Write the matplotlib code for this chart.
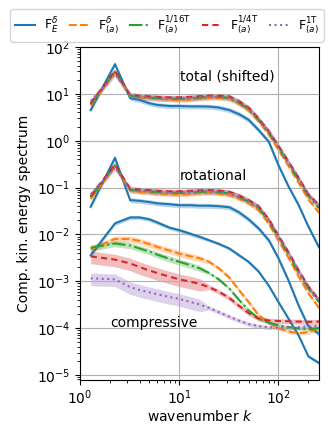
import numpy as np
import matplotlib
import matplotlib.pyplot as plt

matplotlib.use("Agg")

k = [1.28, 2.25, 3.2, 4, 5, 6, 8, 10, 13, 16, 20, 25, 32, 40, 50, 63, 80, 100, 126, 160, 200, 256]

# total (shifted by x100)
tot_E = [4.5, 43, 8.1, 7.4, 6.3, 5.8, 5.5, 5.5, 5.4, 5.4, 5.35, 5.1, 4.5, 3.7, 2.8, 1.7, 0.95, 0.30, 0.107, 0.042, 0.0148, 0.0053]
tot_d = [5.6, 28, 8.9, 8.4, 8.1, 7.8, 7.5, 7.3, 7.5, 7.8, 8.2, 8.2, 7.8, 6.1, 4.4, 2.6, 1.35, 0.64, 0.29, 0.125, 0.056, 0.029]
tot_16 = [6.0, 30, 9.2, 8.7, 8.4, 8.1, 7.9, 7.8, 8.0, 8.3, 8.6, 8.6, 8.2, 6.5, 4.7, 2.8, 1.48, 0.72, 0.33, 0.145, 0.066, 0.036]
tot_4 = [6.3, 31, 9.6, 9.1, 8.8, 8.6, 8.4, 8.4, 8.6, 8.9, 9.2, 9.2, 8.8, 7.0, 5.1, 3.0, 1.6, 0.78, 0.36, 0.16, 0.072, 0.042]
tot_1 = [7.0, 27, 9.3, 8.8, 8.5, 8.2, 8.0, 8.0, 8.2, 8.5, 8.8, 8.8, 8.4, 6.7, 4.9, 2.9, 1.55, 0.75, 0.35, 0.155, 0.070, 0.041]

# rotational
rot_E = [0.039, 0.43, 0.054, 0.052, 0.049, 0.046, 0.044, 0.042, 0.042, 0.041, 0.041, 0.040, 0.038, 0.0297, 0.021, 0.0135, 0.0075, 0.0031, 0.00105, 0.0003, 1.1e-4, 7.6e-5]
rot_d = [0.057, 0.28, 0.085, 0.080, 0.077, 0.074, 0.072, 0.071, 0.073, 0.075, 0.076, 0.074, 0.069, 0.058, 0.046, 0.033, 0.0168, 0.0074, 0.0032, 0.00125, 5.6e-4, 2.7e-4]
rot_16 = [0.062, 0.30, 0.090, 0.086, 0.083, 0.080, 0.078, 0.077, 0.079, 0.081, 0.082, 0.080, 0.075, 0.063, 0.050, 0.037, 0.019, 0.0085, 0.0038, 0.0015, 7.0e-4, 3.6e-4]
rot_4 = [0.066, 0.31, 0.095, 0.091, 0.088, 0.085, 0.083, 0.083, 0.085, 0.087, 0.088, 0.086, 0.081, 0.068, 0.054, 0.040, 0.021, 0.0094, 0.0042, 0.0017, 7.8e-4, 4.0e-4]
rot_1 = [0.072, 0.27, 0.091, 0.087, 0.084, 0.081, 0.079, 0.078, 0.080, 0.083, 0.084, 0.082, 0.077, 0.065, 0.052, 0.038, 0.020, 0.0090, 0.0040, 0.0016, 7.4e-4, 3.9e-4]

# compressive
comp_E = [0.0036, 0.0172, 0.023, 0.023, 0.021, 0.018, 0.0139, 0.0123, 0.0103, 0.0089, 0.0075, 0.0063, 0.0050, 0.0036, 0.0026, 0.00162, 8.0e-4, 3.6e-4, 1.6e-4, 6.9e-5, 2.5e-5, 1.8e-5]
comp_d = [0.0048, 0.0080, 0.0080, 0.0072, 0.0062, 0.0054, 0.0045, 0.0039, 0.0034, 0.0031, 0.0026, 0.0019, 0.0012, 6.5e-4, 3.6e-4, 1.9e-4, 1.3e-4, 1.0e-4, 8.5e-5, 7.8e-5, 8.2e-5, 1.0e-4]
comp_16 = [0.0052, 0.0064, 0.0058, 0.0050, 0.0043, 0.0037, 0.0030, 0.0026, 0.0022, 0.0019, 0.0015, 0.0011, 7.0e-4, 4.0e-4, 2.4e-4, 1.6e-4, 1.3e-4, 1.15e-4, 1.05e-4, 9.8e-5, 9.5e-5, 1.0e-4]
comp_4 = [0.0034, 0.0029, 0.0024, 0.0020, 0.0017, 0.0015, 0.00125, 0.0011, 9.8e-4, 8.8e-4, 7.5e-4, 6.0e-4, 4.4e-4, 3.0e-4, 2.1e-4, 1.6e-4, 1.45e-4, 1.42e-4, 1.40e-4, 1.38e-4, 1.36e-4, 1.38e-4]
comp_1 = [0.00115, 0.0011, 7.5e-4, 6.5e-4, 5.8e-4, 5.3e-4, 4.6e-4, 4.2e-4, 3.6e-4, 3.2e-4, 2.7e-4, 2.2e-4, 1.75e-4, 1.45e-4, 1.22e-4, 1.10e-4, 1.04e-4, 1.02e-4, 1.02e-4, 1.05e-4, 1.08e-4, 1.12e-4]

# relative half width of the shaded ensemble band
spread_tot = [0.12, 0.10, 0.08, 0.10, 0.15]
spread_comp_lo = [0.10, 0.15, 0.15, 0.30, 0.30]
spread_comp_hi = [0.08, 0.10, 0.08, 0.12, 0.10]

labels = [r"F$_E^\delta$", r"F$_{(a)}^\delta$", r"F$_{(a)}^{1/16\mathrm{T}}$",
          r"F$_{(a)}^{1/4\mathrm{T}}$", r"F$_{(a)}^{1\mathrm{T}}$"]
colors = ["tab:blue", "tab:orange", "tab:green", "tab:red", "tab:purple"]
styles = ["-", "--", "-.", (0, (3, 2)), ":"]

totals = [tot_E, tot_d, tot_16, tot_4, tot_1]
rots = [rot_E, rot_d, rot_16, rot_4, rot_1]
comps = [comp_E, comp_d, comp_16, comp_4, comp_1]

fig = plt.figure(figsize=(3.34, 4.34), dpi=100)
ax = fig.add_axes([0.2395, 0.1244, 0.7155, 0.7673])

kk = np.array(k)
for i in range(5):
    for j, series in enumerate([totals[i], rots[i], comps[i]]):
        y = np.array(series)
        if j < 2:
            s = spread_tot[i]
        else:
            s = np.where(kk < 20, spread_comp_lo[i], spread_comp_hi[i])
        ax.fill_between(kk, y * (1 - s), y * (1 + s), color=colors[i], alpha=0.3, lw=0)
        ax.plot(kk, y, color=colors[i], linestyle=styles[i], lw=1.5,
                label=labels[i] if j == 0 else None)

ax.set_xscale("log")
ax.set_yscale("log")
ax.set_xlim(1, 256)
ax.set_ylim(7.8e-6, 100)
ax.grid(True, which="major")
ax.tick_params(axis="x", pad=2.5)
ax.set_xlabel(r"wavenumber $k$", labelpad=1.5)
ax.set_ylabel("Comp. kin. energy spectrum")

ax.text(10.1, 24, "total (shifted)", va="center", ha="left")
ax.text(10.1, 0.18, "rotational", va="center", ha="left")
ax.text(2.0, 1.26e-4, "compressive", va="center", ha="left")

fig.legend(loc="upper center", bbox_to_anchor=(0.5, 0.98), ncol=5,
           handlelength=1.6, columnspacing=0.8, handletextpad=0.7,
           borderpad=0.4, borderaxespad=0.0, fontsize=9)

plt.savefig("out.png", dpi=100)
